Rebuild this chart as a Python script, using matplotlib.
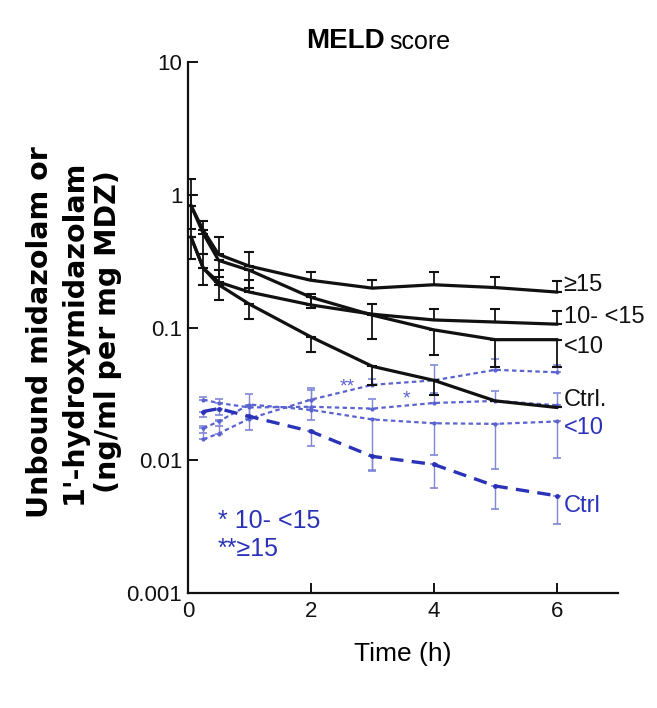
import numpy as np
import matplotlib
matplotlib.use("Agg")
import matplotlib.pyplot as plt
from matplotlib import font_manager

# ---------------- data ----------------
t_black = [0.05, 0.25, 0.5, 1, 2, 3, 4, 5, 6]
t_blue = [0.25, 0.5, 1, 2, 3, 4, 5, 6]

# unbound midazolam (black)
mdz_ge15 = [0.83, 0.54, 0.355, 0.29, 0.227, 0.198, 0.21, 0.20, 0.185]
mdz_ge15_hi = [1.32, 0.64, 0.48, 0.37, 0.26, 0.227, 0.26, 0.24, 0.225]
mdz_mid = [0.48, 0.28, 0.22, 0.185, 0.148, 0.126, 0.114, 0.11, 0.106]
mdz_mid_hi = [1.0, 0.36, 0.27, 0.23, 0.18, 0.15, 0.137, 0.137, 0.133]
mdz_lt10 = [0.83, 0.51, 0.32, 0.27, 0.169, 0.124, 0.096, 0.081, 0.081]
mdz_lt10_lo = [0.55, 0.36, 0.24, 0.20, 0.14, 0.082, 0.062, 0.05, 0.05]
mdz_ctrl = [0.48, 0.28, 0.21, 0.15, 0.085, 0.051, 0.040, 0.028, 0.025]
mdz_ctrl_lo = [0.33, 0.21, 0.16, 0.116, 0.065, 0.037, 0.031, 0.028, 0.025]

# unbound 1'-hydroxymidazolam (blue)
oh_ge15 = [0.0144, 0.0159, 0.0206, 0.0286, 0.037, 0.040, 0.048, 0.046]
oh_ge15_hi = [0.018, 0.020, 0.025, 0.034, 0.041, 0.052, 0.058, 0.052]
oh_mid = [0.0286, 0.027, 0.025, 0.0253, 0.0245, 0.027, 0.028, 0.026]
oh_mid_hi = [0.030, 0.029, 0.0316, 0.035, 0.029, 0.032, 0.033, 0.032]
oh_lt10 = [0.0174, 0.0196, 0.0263, 0.024, 0.0203, 0.019, 0.0188, 0.0196]
oh_lt10_lo = [0.016, 0.018, 0.021, 0.020, 0.0085, 0.011, 0.0086, 0.0104]
oh_ctrl = [0.0233, 0.0245, 0.0214, 0.0165, 0.0107, 0.0093, 0.0064, 0.0054]
oh_ctrl_lo = [0.021, 0.022, 0.017, 0.0127, 0.0083, 0.0062, 0.0043, 0.0033]

black_labels = ["\u226515", "10- <15", "<10", "Ctrl."]
blue_labels = ["<10", "Ctrl"]
star_labels = ["* 10- <15", "**\u226515"]
x_ticks = [0, 2, 4, 6]
y_ticks = [0.001, 0.01, 0.1, 1, 10]
y_ticklabels = ["0.001", "0.01", "0.1", "1", "10"]

# ---------------- style ----------------
names = {f.name for f in font_manager.fontManager.ttflist}
narrow = "Liberation Sans Narrow" if "Liberation Sans Narrow" in names else "Liberation Sans"
plt.rcParams["font.family"] = [narrow, "DejaVu Sans"]

BLACK = "#111111"
BLUE_D = "#2a33b8"
BLUE_L = "#5a63cf"
BLUE_E = "#8088d6"

fig = plt.figure(figsize=(6.57, 7.08), dpi=100)
ax = fig.add_axes([0.286, 0.1624, 0.655, 0.75])
ax.set_yscale("log")
ax.set_xlim(0, 7)
ax.set_ylim(0.001, 10)


def eb(t, v, lo=None, hi=None, **kw):
    v = np.asarray(v)
    lo_arr = v if lo is None else np.asarray(lo)
    hi_arr = v if hi is None else np.asarray(hi)
    ax.errorbar(t, v, yerr=[v - lo_arr, hi_arr - v], fmt="none",
                **kw)


# blue error bars
for vals, lo, hi in [(oh_ge15, None, oh_ge15_hi), (oh_mid, None, oh_mid_hi),
                     (oh_lt10, oh_lt10_lo, None), (oh_ctrl, oh_ctrl_lo, None)]:
    eb(t_blue, vals, lo, hi, ecolor=BLUE_E, elinewidth=1.0, capsize=3, capthick=1.2)

# blue lines
ax.plot(t_blue, oh_ge15, color=BLUE_L, lw=1.6, ls=(0, (2, 1.5)), marker=".", ms=4)
ax.plot(t_blue, oh_mid, color=BLUE_L, lw=1.6, ls=(0, (2, 1.5)), marker=".", ms=4)
ax.plot(t_blue, oh_lt10, color=BLUE_L, lw=1.6, ls=(0, (2, 1.5)), marker=".", ms=4)
ax.plot(t_blue, oh_ctrl, color=BLUE_D, lw=2.4, ls=(0, (4, 2.5)), marker=".", ms=5)

# black error bars
for vals, lo, hi in [(mdz_ge15, None, mdz_ge15_hi), (mdz_mid, None, mdz_mid_hi),
                     (mdz_lt10, mdz_lt10_lo, None), (mdz_ctrl, mdz_ctrl_lo, None)]:
    eb(t_black, vals, lo, hi, ecolor=BLACK, elinewidth=1.3, capsize=3.5, capthick=1.5)

# black lines
for vals in [mdz_ge15, mdz_mid, mdz_lt10, mdz_ctrl]:
    ax.plot(t_black, vals, color=BLACK, lw=2.3, solid_joinstyle="round")

# end labels
black_series = [mdz_ge15, mdz_mid, mdz_lt10, mdz_ctrl]
black_offsets = [5, 5, -5, 5]
for lab, vals, off in zip(black_labels, black_series, black_offsets):
    ax.annotate(lab, (t_black[-1], vals[-1]), xytext=(5, off), textcoords="offset points",
                va="center", ha="left", fontsize=17, color=BLACK, annotation_clip=False)
blue_series = [oh_lt10, oh_ctrl]
blue_offsets = [-5, -7]
for lab, vals, off in zip(blue_labels, blue_series, blue_offsets):
    ax.annotate(lab, (t_blue[-1], vals[-1]), xytext=(5, off), textcoords="offset points",
                va="center", ha="left", fontsize=17, color=BLUE_D, annotation_clip=False)

# star legend
ax.text(0.07, 0.135, star_labels[0], transform=ax.transAxes, color=BLUE_D,
        fontsize=18, va="center", ha="left")
ax.text(0.07, 0.082, star_labels[1], transform=ax.transAxes, color=BLUE_D,
        fontsize=18, va="center", ha="left")
# stars on the curves
ax.annotate("**", (2.6, oh_ge15[3]), xytext=(0, 6), textcoords="offset points",
            color=BLUE_L, fontsize=14, ha="center")
ax.annotate("*", (3.55, oh_mid[4]), xytext=(0, 4), textcoords="offset points",
            color=BLUE_L, fontsize=14, ha="center")

# axes styling
for s in ["top", "right"]:
    ax.spines[s].set_visible(False)
for s in ["left", "bottom"]:
    ax.spines[s].set_linewidth(1.6)
    ax.spines[s].set_color(BLACK)
ax.set_xticks(x_ticks)
ax.set_xticklabels([str(v) for v in x_ticks])
ax.set_yticks(y_ticks)
ax.set_yticklabels(y_ticklabels)
ax.yaxis.set_minor_locator(matplotlib.ticker.NullLocator())
ax.tick_params(axis="both", direction="in", length=7, width=1.4, labelsize=16,
               colors=BLACK)
ax.tick_params(axis="x", pad=6)
ax.tick_params(axis="y", pad=4)

ax.set_xlabel("Time (h)", fontsize=19, labelpad=14)

fig.text(0.585, 0.942, "MELD", fontsize=20, fontweight="bold", ha="right", va="center")
fig.text(0.592, 0.940, "score", fontsize=18, ha="left", va="center")

ylines = ["Unbound midazolam or", "1'-hydroxymidazolam", "(ng/ml per mg MDZ)"]
for i, line in enumerate(ylines):
    fig.text((40 + 34 * i) / 657, 1 - 332 / 708, line, rotation=90, ha="center",
             va="center", fontsize=20.5, fontweight="bold", family="DejaVu Sans")

fig.savefig("out.png", dpi=100)
